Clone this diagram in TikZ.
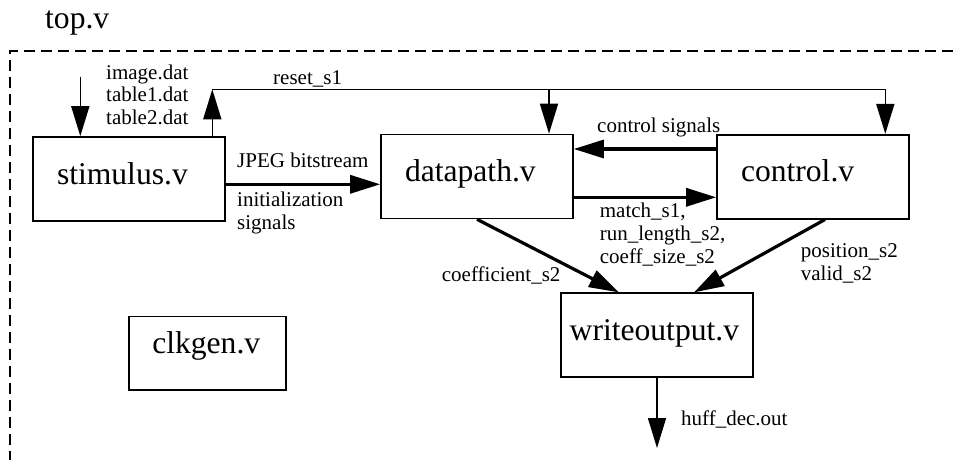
\documentclass[tikz,border=0pt]{standalone}
\usepackage{fontspec}
\setmainfont{Liberation Serif}
\usetikzlibrary{positioning, arrows.meta}

\begin{document}
\begin{tikzpicture}[x=1pt, y=-1pt,
        box/.style={rectangle, draw, line width=1.6pt, minimum height=84pt, inner xsep=24pt, text width=144pt, align=left, text height=21pt, text depth=11pt, font=\fontsize{31.6}{36}\selectfont},
        arrow/.style={-{Triangle[length=30pt, width=18pt]}, line width=1.6pt},
        bus/.style={arrow, line width=3.2pt},
        sig/.style={inner sep=0pt, align=left, font=\fontsize{21}{22.6}\selectfont}
    ]
    \useasboundingbox (0,0) rectangle (958,460);

    % Top level frame
    \draw[line width=1.6pt, dash pattern=on 11pt off 6pt] (10,462) -- (10,51) -- (960,51);
    \node[anchor=base west, inner sep=0pt, font=\fontsize{31.6}{36}\selectfont] (top) at (45,29) {top.v};

    % Modules
    \node[box] (stim) at (129,179) {stimulus.v};
    \node[box] (dp) at (477,176.5) {datapath.v};
    \node[box] (ctl) at (813,176.7) {control.v};
    \node[box, inner xsep=8.7pt, text width=174.6pt] (wo) at (657,335.2) {writeoutput.v};
    \node[box, minimum height=73.3pt, inner xsep=23.5pt, text width=110pt, text height=16pt, text depth=16pt] (clk) at (207.3,353.3) {clkgen.v};

    % Connector end points
    \coordinate (in) at (80.3,76.7);
    \coordinate (rst) at (212.3,89.3);
    \coordinate (rstdp) at (549,89.3);
    \coordinate (rstctl) at (885.3,89.3);
    \coordinate (jpeg) at (300,184.3);
    \coordinate (cs) at (645,149);
    \coordinate (mt) at (645,197.3);
    \coordinate (coef) at (619,293);
    \coordinate (posin) at (694,293);
    \coordinate (posout) at (825,220);
    \coordinate (out) at (657,448);

    % Files and reset (multi line labels sit on their last line)
    \draw[arrow] (in) -- (in |- stim.north);
    \node[sig, anchor=base west] (files) at (106,124.5) {image.dat\\table1.dat\\table2.dat};
    \draw[arrow] (stim.north -| rst) -- (rst);
    \draw[line width=1.6pt] (rst) -- (rstctl);
    \draw[arrow] (rstdp) -- (rstdp |- dp.north);
    \draw[arrow] (rstctl) -- (rstctl |- ctl.north);
    \node[sig, anchor=base west] (rstlbl) at (273,84.3) {reset\_s1};

    % Stimulus to datapath
    \draw[bus] (stim.east |- jpeg) -- (dp.west |- jpeg);
    \node[sig, anchor=base west] (jpeglbl) at (237,167.7) {JPEG bitstream};
    \node[sig, anchor=base west] (initlbl) at (237,229.3) {initialization\\signals};

    % Datapath and control
    \draw[bus] (ctl.west |- cs) -- (dp.east |- cs);
    \node[sig, anchor=base west] (cslbl) at (597,132.7) {control signals};
    \draw[bus] (dp.east |- mt) -- (ctl.west |- mt);
    \node[sig, anchor=base west] (mtlbl) at (599.7,263) {match\_s1,\\run\_length\_s2,\\coeff\_size\_s2};

    % Output writer
    \draw[bus] (dp.south) -- (wo.north -| coef);
    \node[sig, anchor=base west] (coeflbl) at (441.7,281) {coefficient\_s2};
    \draw[bus] (ctl.south -| posout) -- (wo.north -| posin);
    \node[sig, anchor=base west] (poslbl) at (800.7,280) {position\_s2\\valid\_s2};
    \draw[arrow] (wo.south) -- (out);
    \node[sig, anchor=base west] (outlbl) at (681,425) {huff\_dec.out};
\end{tikzpicture}
\end{document}
